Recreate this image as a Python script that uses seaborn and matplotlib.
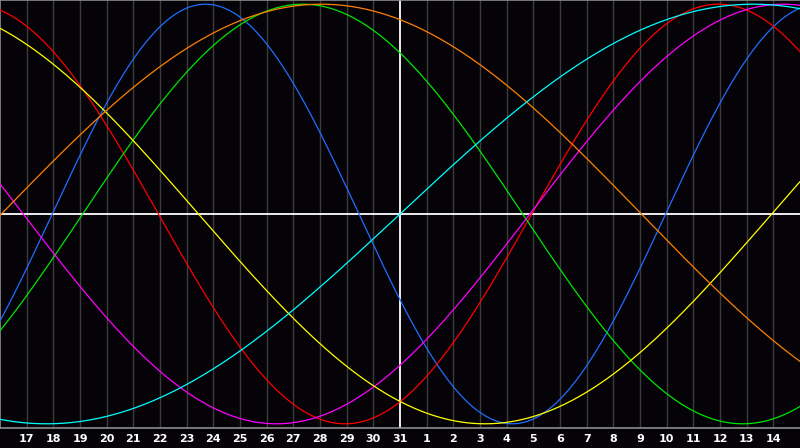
import numpy as np
import pandas as pd
import seaborn as sns
import matplotlib.pyplot as plt

# day labels under the gridlines (gridline index 1..29)
DAY_LABELS = list(range(17, 32)) + list(range(1, 15))
TODAY_INDEX = 15  # the "31" column, white marker line

# cycle lengths (days) and the column index where each curve rises through zero
CYCLES = ["Physical", "Emotional", "Intellectual", "Intuitive",
          "Aesthetic", "Awareness", "Spiritual"]
PERIODS = [23, 28, 33, 38, 43, 48, 53]
RISING_ZERO = [1.96, 19.94, 3.1, 19.87, 28.94, 0.05, 15.0]
COLORS = ["#1e6eff", "#ff0000", "#00e600", "#ff00ff",
          "#ffff00", "#ff8000", "#00ffff"]

N_DAYS = 30
BG = "#050308"


def build_frame():
    t = np.linspace(0, N_DAYS, 801)
    rows = []
    for name, period, zero in zip(CYCLES, PERIODS, RISING_ZERO):
        rows.append(pd.DataFrame({
            "day": t,
            "value": np.sin(2 * np.pi * (t - zero) / period),
            "cycle": name,
        }))
    return pd.concat(rows, ignore_index=True)


def main():
    sns.set_theme(style="dark")
    plt.rcParams["font.family"] = ["DejaVu Sans"]

    fig = plt.figure(figsize=(8, 4.48), dpi=100, facecolor=BG)
    ax = fig.add_axes([0, 20 / 448, 1, 428 / 448])
    ax.set_facecolor(BG)

    # day gridlines
    for i in range(1, N_DAYS):
        if i != TODAY_INDEX:
            ax.axvline(i, color="#3c3c3c", lw=1.0, zorder=1)

    df = build_frame()
    sns.lineplot(data=df, x="day", y="value", hue="cycle",
                 palette=dict(zip(CYCLES, COLORS)), linewidth=0.9,
                 legend=False, ax=ax, zorder=3, estimator=None)

    ax.axhline(0, color="white", lw=1.3, zorder=2)
    ax.axvline(TODAY_INDEX, color="white", lw=1.3, zorder=2)

    ax.set_xlim(0, N_DAYS)
    ax.set_ylim(-1.02, 1.02)
    ax.set_xticks(range(1, N_DAYS))
    ax.set_xticklabels([str(d) for d in DAY_LABELS], color="white",
                       fontsize=8, fontweight="bold")
    ax.set_yticks([])
    ax.tick_params(axis="x", length=0, pad=4)
    ax.set_xlabel("")
    ax.set_ylabel("")
    ax.grid(False)

    for side in ["left", "top", "bottom"]:
        ax.spines[side].set_visible(True)
        ax.spines[side].set_color("#8c8c8c")
        ax.spines[side].set_linewidth(1.2)
    ax.spines["right"].set_visible(False)

    fig.savefig("out.png", dpi=100, facecolor=BG)
    plt.close(fig)


if __name__ == "__main__":
    main()
